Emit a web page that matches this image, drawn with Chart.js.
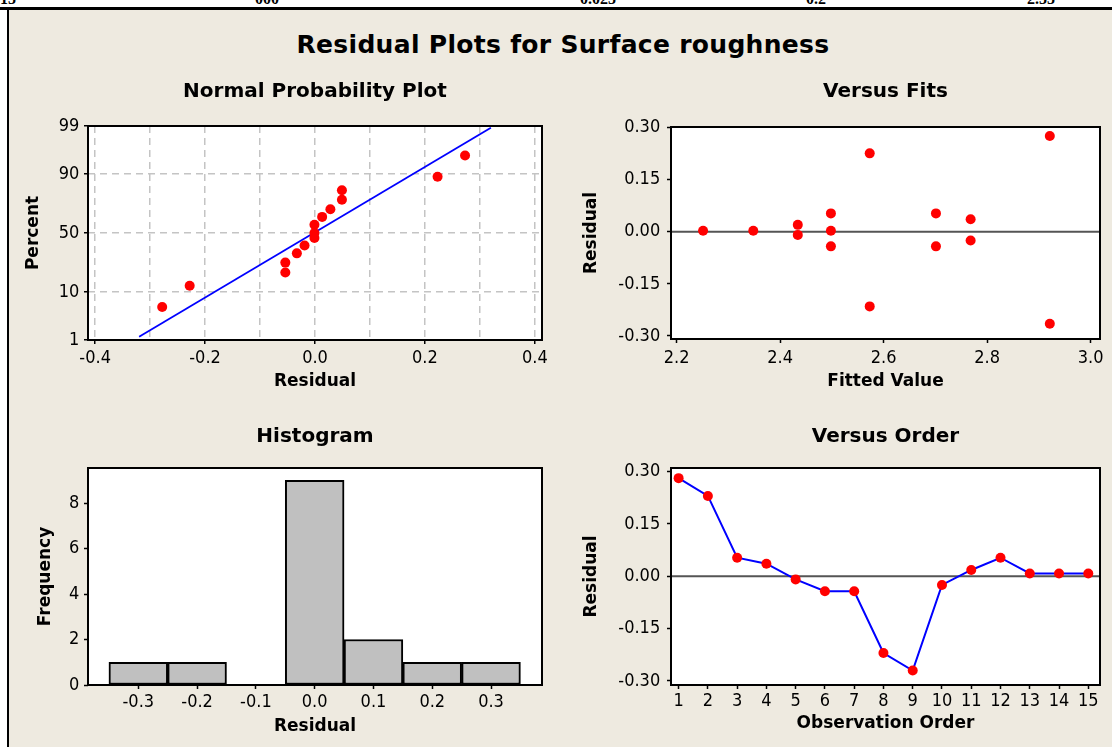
<!DOCTYPE html>
<html><head><meta charset="utf-8">
<script src="https://cdn.jsdelivr.net/npm/chart.js@4.4.1/dist/chart.umd.min.js"></script>
<style>
html,body{margin:0;padding:0;background:#fff;width:1112px;height:747px;overflow:hidden;position:relative;}
#strip{position:absolute;left:0;top:0;width:1112px;height:7px;overflow:hidden;}
#strip span{position:absolute;top:-9px;font:bold 16px 'Liberation Serif',serif;line-height:16px;color:#000;white-space:nowrap;}
#topline{position:absolute;left:0;top:7px;width:1112px;height:3px;background:#000;}
#leftline{position:absolute;left:7px;top:10px;width:2px;height:737px;background:#000;}
#panel{position:absolute;left:9px;top:10px;width:1103px;height:737px;background:#EEEAE0;}
#title{position:absolute;left:0;width:1126px;top:30px;text-align:center;font:bold 25px 'DejaVu Sans',sans-serif;letter-spacing:0.3px;line-height:30px;color:#000;white-space:nowrap;}
.wrap{position:absolute;}
canvas{display:block;}
</style></head>
<body>
<div id="strip"><span style="left:0px">15</span><span style="left:255px">000</span><span style="left:580px">0.025</span><span style="left:806px">0.2</span><span style="left:1027px">2.55</span></div>
<div id="topline"></div>
<div id="leftline"></div>
<div id="panel"></div>
<div id="title">Residual Plots for Surface roughness</div>
<div class="wrap" style="left:0px;top:70px"><canvas id="cNpp" width="560" height="330"></canvas></div>
<div class="wrap" style="left:560px;top:70px"><canvas id="cFits" width="552" height="330"></canvas></div>
<div class="wrap" style="left:0px;top:410px"><canvas id="cHist" width="560" height="337"></canvas></div>
<div class="wrap" style="left:560px;top:410px"><canvas id="cOrder" width="552" height="337"></canvas></div>
<script>
// ---------------- data ----------------
// Normal probability plot
const nppResiduals = [-0.278, -0.228, -0.054, -0.054, -0.033, -0.019, -0.001, -0.001, -0.001, 0.013, 0.028, 0.049, 0.049, 0.223, 0.273];
const nppPercents  = [5.4, 12.6, 19.5, 26.0, 32.9, 39.3, 45.7, 50.0, 57.1, 63.7, 69.7, 76.5, 82.4, 88.9, 95.4];
const nppFitResiduals = [-0.32, 0.32];
const nppFitPercents  = [1.2, 98.9];
const nppXTicks = [-0.4, -0.3, -0.2, -0.1, 0.0, 0.1, 0.2, 0.3, 0.4];
const nppXTickLabels = ['-0.4', '', '-0.2', '', '0.0', '', '0.2', '', '0.4'];
const nppYTickPercents = [1, 10, 50, 90, 99];
const nppYTickLabels = ['1', '10', '50', '90', '99'];

// Versus fits
const fittedValues  = [2.251, 2.348, 2.434, 2.434, 2.498, 2.498, 2.498, 2.573, 2.573, 2.701, 2.701, 2.768, 2.768, 2.921, 2.921];
const fitsResiduals = [0.003, 0.003, 0.020, -0.009, 0.053, 0.003, -0.042, 0.226, -0.215, 0.053, -0.042, 0.036, -0.025, 0.276, -0.265];
const fitsXTicks = [2.2, 2.4, 2.6, 2.8, 3.0];
const fitsXTickLabels = ['2.2', '2.4', '2.6', '2.8', '3.0'];
const residualTicks = [-0.30, -0.15, 0.00, 0.15, 0.30];
const residualTickLabels = ['-0.30', '-0.15', '0.00', '0.15', '0.30'];

// Histogram
const histBinCenters = [-0.3, -0.2, -0.1, 0.0, 0.1, 0.2, 0.3];
const histFrequencies = [1, 1, 0, 9, 2, 1, 1];
const histXTickLabels = ['-0.3', '-0.2', '-0.1', '0.0', '0.1', '0.2', '0.3'];
const histYTicks = [0, 2, 4, 6, 8];
const histYTickLabels = ['0', '2', '4', '6', '8'];

// Versus order
const observationOrder = [1, 2, 3, 4, 5, 6, 7, 8, 9, 10, 11, 12, 13, 14, 15];
const orderResiduals = [0.281, 0.230, 0.053, 0.036, -0.009, -0.043, -0.043, -0.220, -0.270, -0.025, 0.018, 0.053, 0.008, 0.008, 0.008];
const orderXTickLabels = ['1','2','3','4','5','6','7','8','9','10','11','12','13','14','15'];

// ---------------- helpers ----------------
function probit(p) { // inverse standard normal CDF (Acklam)
  const a=[-3.969683028665376e+01,2.209460984245205e+02,-2.759285104469687e+02,1.383577518672690e+02,-3.066479806614716e+01,2.506628277459239e+00];
  const b=[-5.447609879822406e+01,1.615858368580409e+02,-1.556989798598866e+02,6.680131188771972e+01,-1.328068155288572e+01];
  const c=[-7.784894002430293e-03,-3.223964580411365e-01,-2.400758277161838e+00,-2.549732539343734e+00,4.374664141464968e+00,2.938163982698783e+00];
  const d=[7.784695709041462e-03,3.224671290700398e-01,2.445134137142996e+00,3.754408661907416e+00];
  const pl=0.02425, ph=1-pl; let q, r;
  if (p < pl) { q=Math.sqrt(-2*Math.log(p)); return (((((c[0]*q+c[1])*q+c[2])*q+c[3])*q+c[4])*q+c[5])/((((d[0]*q+d[1])*q+d[2])*q+d[3])*q+1); }
  if (p > ph) { q=Math.sqrt(-2*Math.log(1-p)); return -(((((c[0]*q+c[1])*q+c[2])*q+c[3])*q+c[4])*q+c[5])/((((d[0]*q+d[1])*q+d[2])*q+d[3])*q+1); }
  q=p-0.5; r=q*q;
  return (((((a[0]*r+a[1])*r+a[2])*r+a[3])*r+a[4])*r+a[5])*q/(((((b[0]*r+b[1])*r+b[2])*r+b[3])*r+b[4])*r+1);
}

const TICK_FONT = {family: "'DejaVu Sans Condensed','Liberation Sans',sans-serif", size: 18, lineHeight: 1.2};
const AXIS_TITLE_FONT = {family: "'DejaVu Sans',sans-serif", size: 17, weight: 'bold', lineHeight: 1.2};
const PANEL_TITLE_FONT = {family: "'DejaVu Sans',sans-serif", size: 20, weight: 'bold', lineHeight: 1.2};
const RED = '#ff0000', BLUE = '#0000ff';

const framePlugin = {
  id: 'frame',
  beforeDraw(chart) {
    const a = chart.chartArea, c = chart.ctx;
    c.save(); c.fillStyle = '#ffffff'; c.fillRect(a.left, a.top, a.right - a.left, a.bottom - a.top); c.restore();
  },
  beforeDatasetsDraw(chart, args, opts) {
    if (!opts || !opts.zeroLine) return;
    const a = chart.chartArea, c = chart.ctx, y = chart.scales.y.getPixelForValue(0);
    c.save(); c.strokeStyle = '#555555'; c.lineWidth = 2;
    c.beginPath(); c.moveTo(a.left, y); c.lineTo(a.right, y); c.stroke(); c.restore();
  },
  afterDraw(chart) {
    const a = chart.chartArea, c = chart.ctx;
    c.save(); c.strokeStyle = '#000'; c.lineWidth = 2;
    c.strokeRect(a.left, a.top, a.right - a.left, a.bottom - a.top); c.restore();
  }
};
Chart.register(framePlugin);

function axis(o) {
  return {
    type: 'linear', position: o.pos, min: o.min, max: o.max, offset: false,
    afterBuildTicks: s => { s.ticks = o.ticks.map(v => ({value: v})); },
    afterFit: s => { if (o.pos === 'left') s.width = o.fixed; else s.height = o.fixed; },
    ticks: {autoSkip: false, maxRotation: 0, minRotation: 0, padding: o.tickPad, color: '#000', font: TICK_FONT,
            callback: (v, i) => o.labels[i]},
    grid: o.grid || {display: true, drawOnChartArea: false, drawTicks: true, tickLength: 4, tickWidth: 1.5, tickColor: '#000', offset: false},
    border: o.border || {display: false},
    title: {display: true, text: o.title, color: '#000', font: AXIS_TITLE_FONT, padding: o.titlePad}
  };
}
function panelTitle(text, top, bottom) {
  return {display: true, text: text, color: '#000', font: PANEL_TITLE_FONT, padding: {top: top, bottom: bottom}, fullSize: false};
}
const base = {responsive: false, animation: false, devicePixelRatio: 1, events: []};
const pointStyle = {pointRadius: 5, pointHoverRadius: 5, pointBackgroundColor: RED, pointBorderColor: RED, pointBorderWidth: 0};

// ---------------- Normal probability plot ----------------
new Chart(document.getElementById('cNpp'), {
  type: 'scatter',
  data: {datasets: [
    Object.assign({label: 'Residuals', data: nppResiduals.map((r, i) => ({x: r, y: probit(nppPercents[i] / 100)})), showLine: false}, pointStyle),
    {label: 'Fit', data: nppFitResiduals.map((r, i) => ({x: r, y: probit(nppFitPercents[i] / 100)})), showLine: true,
     borderColor: BLUE, borderWidth: 1.8, pointRadius: 0}
  ]},
  options: Object.assign({}, base, {
    layout: {padding: {left: 0, top: 0, right: 18, bottom: 0}},
    plugins: {legend: {display: false}, tooltip: {enabled: false}, title: panelTitle('Normal Probability Plot', 10, 22), frame: {zeroLine: false}},
    scales: {
      x: axis({pos: 'bottom', min: -0.413, max: 0.413, ticks: nppXTicks, labels: nppXTickLabels, title: 'Residual',
        fixed: 60, tickPad: 3.3, titlePad: {top: 0, bottom: 8.1},
        grid: {display: true, drawOnChartArea: true, drawTicks: true, tickLength: 4, tickWidth: 1.5, color: '#c4c4c4', lineWidth: 1.5, offset: false,
               tickColor: c => (c.tick && c.tick.label !== '') ? '#000' : 'rgba(0,0,0,0)'},
        border: {display: false, dash: [7, 5]}}),
      y: axis({pos: 'left', min: probit(0.01), max: probit(0.99), ticks: nppYTickPercents.map(p => probit(p / 100)), labels: nppYTickLabels, title: 'Percent',
        fixed: 88, tickPad: 4.7, titlePad: {top: 23.6, bottom: 0},
        grid: {display: true, drawOnChartArea: true, drawTicks: true, tickLength: 4, tickWidth: 1.5, color: '#c4c4c4', lineWidth: 1.5, tickColor: '#000', offset: false},
        border: {display: false, dash: [7, 5]}})
    }
  })
});

// ---------------- Versus fits ----------------
new Chart(document.getElementById('cFits'), {
  type: 'scatter',
  data: {datasets: [Object.assign({label: 'Residual', data: fittedValues.map((f, i) => ({x: f, y: fitsResiduals[i]}))}, pointStyle)]},
  options: Object.assign({}, base, {
    layout: {padding: {left: 0, top: 0, right: 12, bottom: 0}},
    plugins: {legend: {display: false}, tooltip: {enabled: false}, title: panelTitle('Versus Fits', 10, 23), frame: {zeroLine: true}},
    scales: {
      x: axis({pos: 'bottom', min: 2.189, max: 3.018, ticks: fitsXTicks, labels: fitsXTickLabels, title: 'Fitted Value',
        fixed: 61, tickPad: 4.6, titlePad: {top: 0, bottom: 8.1}}),
      y: axis({pos: 'left', min: -0.309, max: 0.302, ticks: residualTicks, labels: residualTickLabels, title: 'Residual',
        fixed: 111, tickPad: 6.8, titlePad: {top: 21.2, bottom: 0}})
    }
  })
});

// ---------------- Histogram ----------------
new Chart(document.getElementById('cHist'), {
  type: 'bar',
  data: {datasets: [{label: 'Frequency', data: histBinCenters.map((b, i) => ({x: b, y: histFrequencies[i]})),
    backgroundColor: '#c0c0c0', borderColor: '#000', borderWidth: 2, borderSkipped: false,
    barPercentage: 1.0, categoryPercentage: 1.0}]},
  options: Object.assign({}, base, {
    layout: {padding: {left: 0, top: 0, right: 18, bottom: 0}},
    plugins: {legend: {display: false}, tooltip: {enabled: false}, title: panelTitle('Histogram', 15, 19), frame: {zeroLine: false}},
    scales: {
      x: axis({pos: 'bottom', min: -0.3856, max: 0.3867, ticks: histBinCenters, labels: histXTickLabels, title: 'Residual',
        fixed: 62, tickPad: 3.0, titlePad: {top: 0, bottom: 10.1}}),
      y: axis({pos: 'left', min: 0, max: 9.54, ticks: histYTicks, labels: histYTickLabels, title: 'Frequency',
        fixed: 88, tickPad: 4.8, titlePad: {top: 35.7, bottom: 0}})
    }
  })
});

// ---------------- Versus order ----------------
new Chart(document.getElementById('cOrder'), {
  type: 'scatter',
  data: {datasets: [Object.assign({label: 'Residual', data: observationOrder.map((o, i) => ({x: o, y: orderResiduals[i]})),
    showLine: true, borderColor: BLUE, borderWidth: 2}, pointStyle)]},
  options: Object.assign({}, base, {
    layout: {padding: {left: 0, top: 0, right: 12, bottom: 0}},
    plugins: {legend: {display: false}, tooltip: {enabled: false}, title: panelTitle('Versus Order', 15, 19), frame: {zeroLine: true}},
    scales: {
      x: axis({pos: 'bottom', min: 0.74, max: 15.4, ticks: observationOrder, labels: orderXTickLabels, title: 'Observation Order',
        fixed: 62, tickPad: 1.3, titlePad: {top: 0, bottom: 13.5}}),
      y: axis({pos: 'left', min: -0.3115, max: 0.31, ticks: residualTicks, labels: residualTickLabels, title: 'Residual',
        fixed: 111, tickPad: 6.8, titlePad: {top: 21.2, bottom: 0}})
    }
  })
});
</script>
</body></html>
